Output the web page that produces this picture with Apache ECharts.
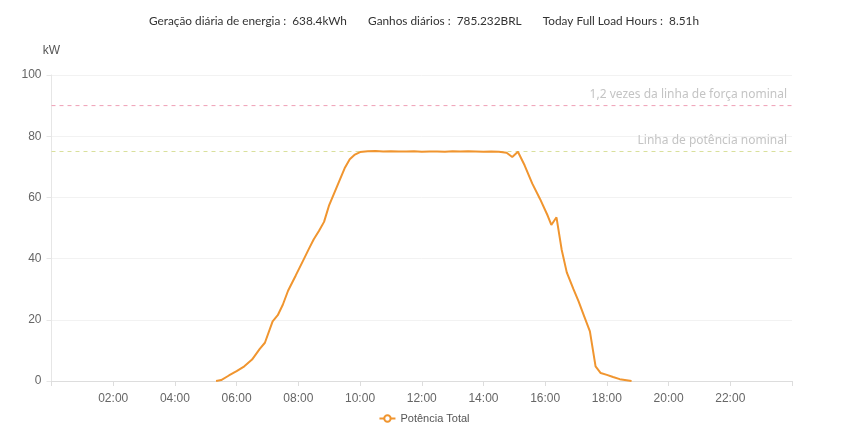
<!DOCTYPE html>
<html><head><meta charset="utf-8">
<script src="https://cdn.jsdelivr.net/npm/echarts@6/dist/echarts.min.js"></script>
<style>html,body{margin:0;padding:0;background:#fff}#c{width:848px;height:445px}</style>
</head><body><div id="c"></div>
<script>
const times = ["05:20","05:30","05:45","06:00","06:15","06:30","06:45","06:55","07:10","07:20","07:30","07:40","07:55","08:10","08:20","08:30","08:40","08:50","09:00","09:10","09:20","09:30","09:40","09:50","10:00","10:15","10:30","10:45","11:00","11:15","11:30","11:45","12:00","12:15","12:30","12:45","13:00","13:15","13:30","13:45","14:00","14:15","14:30","14:45","14:56","15:07","15:20","15:35","15:50","16:05","16:12","16:22","16:32","16:42","16:55","17:05","17:15","17:27","17:38","17:48","18:00","18:12","18:25","18:48"];
const power = [0,0.3,1.8,3.2,4.8,7,10.5,12.5,19.5,21.5,25,29.5,34.5,39.6,43,46.3,49,52,57.5,61.5,65.5,69.5,72.5,74,74.8,75.1,75.2,75.0,75.1,75.0,75.0,75.1,74.9,75.0,75.0,74.9,75.1,75.0,75.1,75.0,74.9,75.0,74.9,74.6,73.2,74.9,70.5,64.5,59.5,54,51,53.5,43,35.5,30,26,21.5,16.2,4.8,2.6,2,1.3,0.6,0];
const seriesName = "Potência Total";
const headerText = "Geração diária de energia :  638.4kWh       Ganhos diários :  785.232BRL       Today Full Load Hours :  8.51h";
const ratedLine = 75, ratedLabel = "Linha de potência nominal";
const ratedLine12 = 90, ratedLabel12 = "1,2 vezes da linha de força nominal";
const yTicks = [0,20,40,60,80,100];
const xMin = 0, xMax = 24;

const toHours = t => { const [h,m] = t.split(":").map(Number); return h + m/60; };
const pad = n => (n<10?"0":"")+n;
const data = times.map((t,i)=>[toHours(t), power[i]]);

function refSeries(id, value, label, color){
  return {id:id,type:'line',silent:true,showSymbol:false,symbol:'none',
    data:[[xMin,value],[xMax,value]],
    lineStyle:{color:color,type:[4,4],width:1},
    markLine:{silent:true,symbol:['none','none'],
      lineStyle:{color:'rgba(0,0,0,0)',width:0},
      label:{position:'insideEndTop',color:'#c4c4c4',fontSize:12,fontFamily:'Noto Sans, sans-serif',formatter:label},
      data:[{yAxis:value}]}};
}

const chart = echarts.init(document.getElementById('c'));
chart.setOption({
  animation:false,
  textStyle:{fontFamily:"Liberation Sans, Arial, sans-serif"},
  title:{text:headerText,left:'center',top:10,padding:[5,9,5,0],textStyle:{fontSize:11.8,fontWeight:'normal',color:'#333',fontFamily:'Lato, sans-serif'}},
  legend:{bottom:16,left:'center',itemWidth:16,itemHeight:8,itemGap:6,textStyle:{color:'#555',fontSize:11},data:[seriesName]},
  grid:{left:51.5,right:56,top:75,bottom:64},
  xAxis:{type:'value',min:xMin,max:xMax,interval:2,
    axisLine:{lineStyle:{color:'#ddd'}},
    axisTick:{lineStyle:{color:'#ddd'}},
    splitLine:{show:false},
    axisLabel:{color:'#666',fontSize:12,margin:12,formatter:v=> (v===0||v===24)?'':pad(v)+':00'}},
  yAxis:{type:'value',min:yTicks[0],max:yTicks[yTicks.length-1],interval:20,name:'kW',
    nameTextStyle:{color:'#555',fontSize:12,padding:[0,0,3,0]},
    axisLine:{show:true,lineStyle:{color:'#e6e6e6'}},
    axisTick:{show:true,lineStyle:{color:'#e6e6e6'}},
    splitLine:{lineStyle:{color:'#f2f2f2'}},
    axisLabel:{color:'#666',fontSize:12,margin:10}},
  series:[
    refSeries('r12', ratedLine12, ratedLabel12, '#ef9fb5'),
    refSeries('r', ratedLine, ratedLabel, '#d9e09c'),
    {name:seriesName,type:'line',data:data,showSymbol:false,symbol:'emptyCircle',symbolSize:7,z:3,
     lineStyle:{color:'#f0952f',width:2},itemStyle:{color:'#f0952f'}}
  ]
});
</script></body></html>
